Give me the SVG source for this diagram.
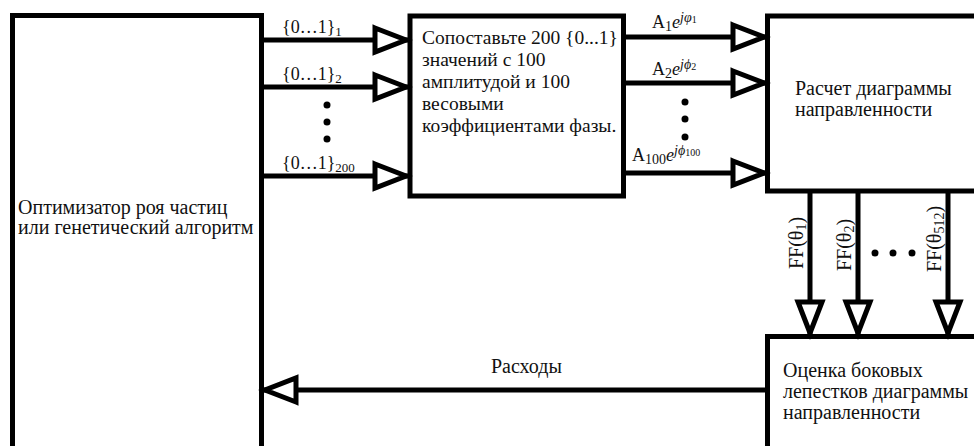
<svg xmlns="http://www.w3.org/2000/svg" width="974" height="446" viewBox="0 0 974 446">
<style>
.box{fill:#fff;stroke:#000;stroke-width:5}
.t{font-family:"Liberation Serif","Times New Roman",serif;font-size:20px;fill:#111}
.t19{font-size:19.5px}
.lb{font-family:"Liberation Serif","Times New Roman",serif;font-size:18px;fill:#111}
.ff{font-size:20px}
.ln{fill:none;stroke:#000;stroke-width:5;marker-end:url(#arr)}
.dot{fill:#000}
</style>
<defs>
<marker id="arr" markerUnits="userSpaceOnUse" markerWidth="44" markerHeight="34" viewBox="-4 -4 44 34" refX="35" refY="13" orient="auto" overflow="visible">
<path d="M2,1 L33,13 L2,25 Z" fill="#fff" stroke="#000" stroke-width="5" stroke-linejoin="miter"/>
</marker>
</defs>
<rect width="974" height="446" fill="#fff"/>
<g id="optimizer">
<rect class="box" x="12.5" y="15.5" width="249" height="440"/>
<text class="t" x="18" y="214">Оптимизатор роя частиц</text>
<text class="t" x="18" y="234">или генетический алгоритм</text>
</g>
<g id="mapper">
<rect class="box" x="410" y="16" width="213.5" height="180"/>
<text class="t t19" x="422" y="44">Сопоставьте 200 {0...1}</text>
<text class="t t19" x="422" y="66">значений с 100</text>
<text class="t t19" x="422" y="88">амплитудой и 100</text>
<text class="t t19" x="422" y="110">весовыми</text>
<text class="t t19" x="422" y="132">коэффициентами фазы.</text>
</g>
<g id="pattern">
<rect class="box" x="767.5" y="16" width="230" height="175"/>
<text class="t" x="795" y="95">Расчет диаграммы</text>
<text class="t" x="795" y="116">направленности</text>
</g>
<g id="sidelobe">
<rect class="box" x="767.5" y="336.5" width="230" height="130"/>
<text class="t" x="783" y="377">Оценка боковых</text>
<text class="t" x="783" y="398">лепестков диаграммы</text>
<text class="t" x="783" y="419">направленности</text>
</g>
<g id="connectors">
<path class="ln" d="M264,40 H408"/>
<path class="ln" d="M264,87 H408"/>
<path class="ln" d="M264,176 H408"/>
<circle class="dot" cx="327" cy="105" r="3.5"/>
<circle class="dot" cx="327" cy="122" r="3.5"/>
<circle class="dot" cx="327" cy="139" r="3.5"/>
<text class="lb" x="282" y="33">{0…1}<tspan font-size="13" dy="3">1</tspan></text>
<text class="lb" x="282" y="80">{0…1}<tspan font-size="13" dy="3">2</tspan></text>
<text class="lb" x="282" y="169">{0…1}<tspan font-size="13" dy="3">200</tspan></text>

<path class="ln" d="M626,37 H766"/>
<path class="ln" d="M626,83 H766"/>
<path class="ln" d="M626,173 H766"/>
<circle class="dot" cx="685" cy="102" r="3.5"/>
<circle class="dot" cx="685" cy="119" r="3.5"/>
<circle class="dot" cx="685" cy="137" r="3.5"/>
<text class="lb" x="652" y="28">A<tspan font-size="14" dy="3">1</tspan><tspan font-style="italic" dy="-3">e</tspan><tspan font-size="14" font-style="italic" dy="-6">jφ</tspan><tspan font-size="10" dy="1">1</tspan></text>
<text class="lb" x="652" y="75">A<tspan font-size="14" dy="3">2</tspan><tspan font-style="italic" dy="-3">e</tspan><tspan font-size="14" font-style="italic" dy="-6">jϕ</tspan><tspan font-size="10" dy="1">2</tspan></text>
<text class="lb" x="632" y="161">A<tspan font-size="14" dy="3">100</tspan><tspan font-style="italic" dy="-3">e</tspan><tspan font-size="14" font-style="italic" dy="-6">jϕ</tspan><tspan font-size="10" dy="1">100</tspan></text>

<path class="ln" d="M810,191 V335"/>
<path class="ln" d="M858,191 V335"/>
<path class="ln" d="M948,191 V335"/>
<text class="lb ff" transform="translate(803,243) rotate(-90)" text-anchor="middle">FF(θ<tspan font-size="14" dy="3">1</tspan><tspan dy="-3">)</tspan></text>
<text class="lb ff" transform="translate(851,245) rotate(-90)" text-anchor="middle">FF(θ<tspan font-size="14" dy="3">2</tspan><tspan dy="-3">)</tspan></text>
<text class="lb ff" transform="translate(941,239) rotate(-90)" text-anchor="middle">FF(θ<tspan font-size="14" dy="3">512</tspan><tspan dy="-3">)</tspan></text>
<circle class="dot" cx="875" cy="253" r="3.5"/>
<circle class="dot" cx="893" cy="253" r="3.5"/>
<circle class="dot" cx="912" cy="253" r="3.5"/>

<path class="ln" d="M767,390 H263"/>
<text class="t" x="491" y="373">Расходы</text>
</g>
</svg>
